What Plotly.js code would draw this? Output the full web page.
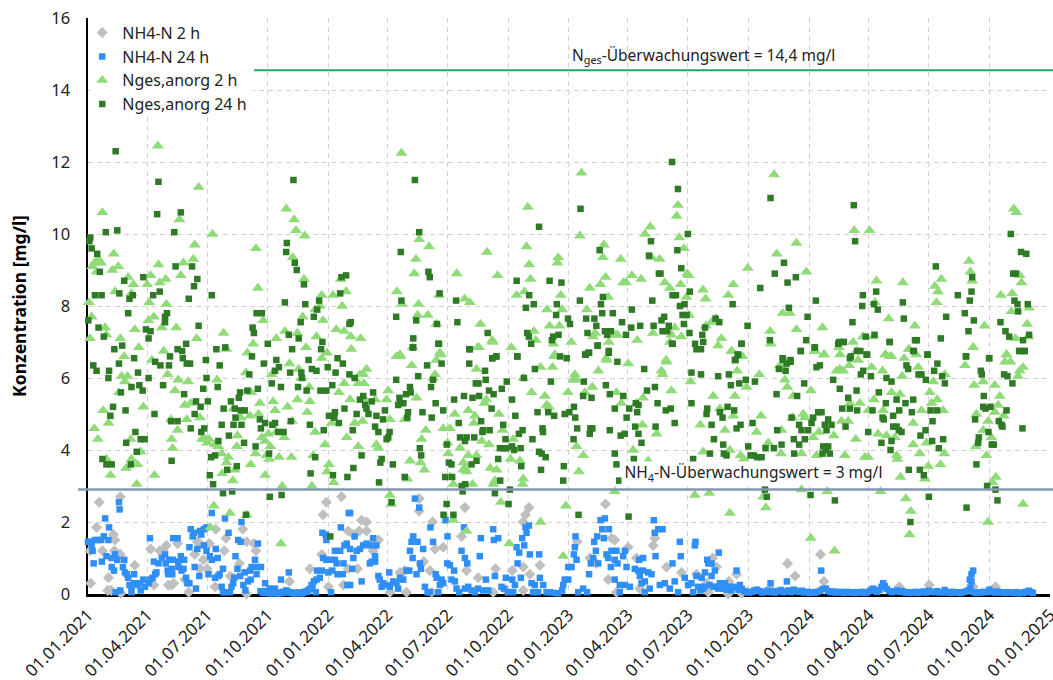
<!DOCTYPE html>
<html><head><meta charset="utf-8">
<script src="https://cdn.plot.ly/plotly-3.0.1.min.js"></script>
<style>html,body{margin:0;padding:0;background:#fff}#c{width:1053px;height:680px}</style></head>
<body><div id="c"></div>
<script>
// each pair: [days since 01.01.2021, concentration mg/l]
const startDate = "2021-01-01";
const tickDates = ["2021-01-01","2021-04-01","2021-07-01","2021-10-01","2022-01-01","2022-04-01","2022-07-01","2022-10-01","2023-01-01","2023-04-01","2023-07-01","2023-10-01","2024-01-01","2024-04-01","2024-07-01","2024-10-01","2025-01-01"];
const tickLabels = ["01.01.2021","01.04.2021","01.07.2021","01.10.2021","01.01.2022","01.04.2022","01.07.2022","01.10.2022","01.01.2023","01.04.2023","01.07.2023","01.10.2023","01.01.2024","01.04.2024","01.07.2024","01.10.2024","01.01.2025"];
const limitNges = 14.55, limitNH4 = 2.9;

const nges2hA = [[1.5,8.1],[5.5,7.7],[6.6,9.1],[9.6,9.2],[13,8.95],[15.7,9.3],[19.7,9.2],[21.8,10.6],[37,9],[39,9.45],[46,9.1],[41,8.4],[61,8.8],[69,8.6],[66,8.35],[26,7.4],[71,7.35],[90,8.6],[95,8.85],[93,8.1],[92,7.6],[100,7.7],[106,12.45],[107,9.15],[109,8.65],[118,8.75],[119,8.05],[112,7.4],[134,7.4],[139,10.4],[141,8.85],[145,9.2],[160,9.3],[162,9.7],[168,11.3],[189,10],[255,9.6],[258,8.5],[266,7.6],[206,7.25],[165,7.1],[299,7.3],[301,10.7],[313,10.4],[316,10.1],[329,9.95],[311,9.35],[328,8.75],[372,8.3],[355,8.3],[384,8.75],[392,8.4],[386,8],[352,8],[345,7.9],[357,7.6],[326,7.7],[318,7.25],[347,7.15],[377,7.35],[389,7.3],[286,7.1],[49,7.1],[28,7.2],[3,7.1],
[9.6,4.6],[15,4.3],[23,5.1],[31,4.75],[28,3.75],[34,3.3],[58,3.5],[65,4.3],[66,3.75],[75,3.6],[74,3.05],[80,3.95],[84,5.2],[47,5.6],[55,6.6],[51,6.05],[60,6.05],[56,5.9],[77,6.85],[97,6.5],[101,3.3],[115,6.75],[121,6.1],[126,4.85],[127,4.3],[128.5,4.05],[136,4.55],[132,5.65],[137,5.95],[152,5.9],[147,5.25],[156,5.3],[150,4.85],[170,4.9],[173,4.3],[178,4.3],[184,4.3],[181,4.2],[193,4.15],[196,5.95],[198,4.1],[203,3.9],[213,3.8],[210.5,3.65],[204,3.35],[223,3.45],[220,3.15],[191,2.45],[215.6,2.25],[186,1.85],[241,2.2],[293,1.4],[295,3],[269,3.3],[247,3.6],[254.5,3.9],[226,4.1],[227,4.4],[221,5.15],[232,4.9],[246,4.95],[248,5.6],[261,5.3],[259,5],[264,4.35],[269,4.25],[274,4.45],[277,4.1],[271,3.85],[275,3.75],[290,3.8],[309,3.8],[298,4.35],[286,4.5],[281,5.35],[284,5.1],[303,5.2],[310,4.8],[318,5.4],[337,5.35],[333,5.05],[345,4.5],[360,4.15],[366,3.6],[363,3.4],[373,3.1],[340,3],[342,3.85],[370,4.75],[393,4.35],[381,5.6],[389,5.85],[398,5.4],[336,5.75],[324,6],[320,6.25],[306,6.4],[331,6.85],[355,6.55],[363,6.7],[279,6.1],[240,6.15],[242,6.7],[251,6.95],[210,6.8]];
const nges2hB = [[476,12.25],[503,9.85],[518,9.65],[498,9.3],[495.5,8.9],[469,8.4],[533,8.3],[477,8.05],[502,8.05],[500.5,7.75],[516,7.75],[529,7.5],[560,8.9],[572,8.2],[580,8.1],[606,9.5],[622,8.85],[596,7.5],[614,7.05],[594,6.85],[536,6.65],[474,6.6],[469,6.6],[493,6.85],[414,7.1],[400,6.8],[399,7.15],[668,10.75],[666,9.65],[670,9.15],[672,8.75],[663,8.4],[651,8.3],[643,6.85],[718,8.3],[714,9.35],[713,9.2],[697,7.9],[720,7.9],[701,7.45],[716,7.45],[677,7.3],[680,7.05],[707,6.95],[734,7],[709,6.65],[749.5,11.7],[747,9.95],[783.5,9.7],[782,9.35],[809,9.3],[786,8.8],[778,8.6],[762,8.5],[790,8.25],[757.6,7.9],[770,7.25],[767,7.15],[800,7.2],[804,7.2],[791,7],[787,6.55],[826,8.85],[840,8.75],[813,8.65],[817,8.65],[846,10],[854,10.2],[834,7.05],[858,7.25],[891,7.4],[886,7.2],[883.6,7],[901,7.15],[896,10.8],[894,10.5],[898,9.9],[905,9.6],[856,9.35],[868,9.3],[876,8.65],[883.6,8.5],[900,8.6],[910,8.9],[912,8.85],[909,8.25],[913,7.75],[878,6.5],
[423,6.25],[418,6.1],[413,6.1],[410.5,5.85],[419,5.85],[456,5.65],[453.5,5.4],[436,5.4],[420.6,5.4],[417,4.8],[405,4.75],[410.5,4.1],[438,4.15],[441,4.05],[458.5,4.85],[481,4.85],[499,5.45],[491.5,6.35],[529,6.5],[524,6],[527,6.1],[506.6,4.3],[513,4.55],[534.4,6.7],[468.7,6.6],[473.7,6.65],[458.5,2.75],[460.5,2.5],[489,3.7],[505,3.65],[511,3.45],[485,3.2],[539.5,4.6],[549.6,4.6],[546,4.2],[547,3.9],[565,4.05],[557,5],[577.5,5.1],[587.6,4.95],[586,4.75],[590,6.25],[591.6,6.85],[614.4,7],[602,5.3],[605,5.4],[624,5],[629.6,4.55],[598,4.25],[609,4.15],[577.5,3.85],[590,3.85],[570,3.65],[570,3.45],[575,3.4],[611,3.5],[620.5,3.45],[618,3.15],[572.6,3.5],[549.6,3.25],[554.7,3.05],[584,3.05],[615.4,3.05],[575,1.75],[554.7,2.05],[641.7,3.75],[645.8,4.3],[656,3.7],[661,3.2],[660,3.05],[627,2.55],[639.7,1.4],[687.3,2],[721.7,1.05],[725.7,2.45],[800,2.85],[745.5,3.4],[752,3.85],[742,4.1],[696.4,5.25],[700,5.2],[693.9,5.5],[673.6,5.6],[661,6],[687.3,6.3],[705.5,6.3],[708,6.6],[729,5.6],[739.4,6.1],[737,5.95],[742,5.95],[754.6,5.6],[766,5.75],[775,6.2],[787.5,6.5],[802.6,5.6],[810,5.3],[820.4,6.4],[828,4],[833,5.3],[843,5.45],[842,4.7],[863.4,4.45],[871,6.2],[872.5,6.1],[878.6,6.45],[886,5.65],[850.7,3.7],[915,5.9],[921.6,2.75]];
const nges2hC = [[1042,11.65],[1076,9.75],[1046,9.45],[1091,8.95],[1002,9.05],[980,8.6],[972.3,8.3],[934,8.45],[938,8.2],[1055,7.8],[1066,7.8],[1115.5,7.4],[1076,7.35],[1036,7.3],[1037,6.95],[953.6,7.65],[947,7.55],[938.4,7.45],[962,7.1],[957,6.9],[977.4,6.75],[994,6.6],[1163.6,10.1],[1187,10.1],[1197.5,8.7],[1195,8.1],[1237.5,8.65],[1216,7.65],[1255.7,7.45],[1162,7],[1177,7.15],[1192.5,7.15],[1140.3,6.85],[1142,6.65],[1104,6.75],[1117.6,6.65],[1167,6.75],[1211,6.65],[1217.8,6.6],[1239.5,6.55],[1246.6,6.8],[1258,6.65],[1286,8.55],[1296,8.75],[1291,8.4],[1288.6,8.1],[1338,9.25],[1340,8.95],[1342.8,8.7],[1361.5,7.45],[1344.3,6.85],[1386.3,8.3],[1403.5,8.35],[1402.5,7.85],[1406,10.7],[1410,10.6],[1415,8.85],[1417.7,8.65],[1429.3,7.95],[1426.3,7.5],[1427.8,7.15],[1408.5,7.1],[1395,6.65],
[949.5,5.5],[982.4,5.5],[1000,5.75],[986,6.2],[1019.4,6.1],[977.4,6.75],[959.7,5.15],[980,4.95],[930,4.7],[967.3,4.55],[1022,4.95],[1015.3,4.5],[1053.3,4.55],[1033,4.2],[991,3.85],[996,3.75],[974.8,4],[1052.3,3.9],[934.4,3.95],[1058.4,5.95],[1062,5.75],[1071,5.5],[1097.8,5.65],[1070,4.9],[1086.2,5],[1088.7,4.9],[1083.6,3.9],[1106.4,3.85],[1101.4,4.35],[1110,4.5],[1132.7,4.4],[1104,6.75],[1118,6.65],[1050.8,6.35],[1136.8,6.2],[1141.8,6.25],[1146.9,6.2],[1156,6.35],[1169.7,6.5],[1144.4,4.8],[1154.5,4.8],[1172.2,5.3],[1157,5.3],[1193.5,5.4],[1207.6,5.1],[1185,5.1],[1166,4.3],[1200,4.45],[1212.7,4.4],[1149.4,3.85],[1179.8,3.8],[1184.9,3.8],[1228,3.85],[1229,3.75],[1225.4,4.35],[1253.2,4.75],[1263.3,3.9],[1253.2,4.15],[1273.4,4.2],[1276,3.55],[1294.7,3.6],[1300.3,3.9],[1234,3.25],[1270.9,3.2],[1283.6,5.9],[1278.5,5.6],[1281,5.3],[1289.6,5.4],[1265.8,5.1],[1298.7,5.1],[1236.5,6.05],[1260.8,6.3],[1190,6.3],[1206.7,6.2],[1211.2,6.65],[1220.3,6.6],[1246.6,6.8],[1220.3,5.6],[1233,5.55],[1301.3,6.1],[1344.3,6.85],[1332,6.35],[1359.5,5.9],[1345.8,5.8],[1377.2,5.8],[1384.8,5.5],[1382.2,5.25],[1377.2,5.05],[1390.8,4.95],[1349.3,5],[1367,4.8],[1359.5,4.55],[1372,4.35],[1348.3,4.1],[1364.5,3.85],[1392.4,6.45],[1395,6.65],[1401,6.45],[1412.6,6.05],[1415,6.2],[1420,6.3],[1378.7,3.25],[1373.6,3.1],[1420,2.5],[1367,2],[1247.6,1.65],[1249.6,2.3],[1242,2.65],[1203.6,2.85],[1122.6,2.85],[1083.6,2.9],[1029.5,2.4],[1025.4,2.7],[974.8,2.25],[943.5,2.8],[1097.8,1.55],[1133.8,1.2]];

const nges24hA = [[3.5,9.9],[2,9.8],[5.5,9.6],[14,9.45],[18,8.95],[10.6,8.3],[20.7,8.3],[0.5,7.6],[16,7.4],[24,7.15],[42,12.3],[27,10.05],[44.5,10.1],[55,8.7],[47.6,8.35],[63,8.2],[68,8.3],[61,7.8],[88,7.35],[95,7.3],[92,7.1],[84,8.8],[99,8.3],[109,8.4],[107,11.45],[105,10.55],[141,10.6],[131,10.05],[133,9.1],[120,7.8],[117,7.7],[117,7.55],[158,9.1],[166,8.75],[161,8.55],[153,8.2],[168,7.45],[188,8.3],[312,11.5],[302,9.75],[301,9.5],[314,9.2],[317,9],[328,8.6],[299,8.1],[330,8.05],[351,8.15],[348,7.9],[343,7.7],[323,7.55],[256,7.8],[264,7.8],[250,7.4],[252,7.25],[305,7.2],[320,7.1],[383,8.35],[385,8.8],[392,8.85],[397,7.5],
[8,6.35],[13,6.2],[32,6.2],[31,6],[40,6.8],[52,6.9],[47,6.4],[70,6.55],[76,6.15],[92,6],[78,5.8],[66,5.75],[83,5.65],[50,5.6],[38,5.2],[57,5.1],[34,4.95],[72,4.5],[58,4.2],[80,4.3],[86,4.3],[74,3.95],[22,3.75],[28,3.6],[36,3.6],[65,3.6],[102,6.45],[110,6.35],[123,6.35],[124.5,6.6],[136,6.8],[143,6.75],[144,6.55],[150,6.4],[155,6.4],[149,6.95],[114,5.8],[101,5],[126,4.8],[136,4.8],[127,3.7],[146,5.55],[156,4.6],[162,5],[164,5.35],[171,5.2],[182,5.35],[175,5.7],[180,6],[179,6.5],[195,6.8],[200,6.35],[208.5,6.85],[197,5.75],[206,5.15],[203,4.7],[217,5.35],[223,5.15],[231,5.6],[242,5.65],[229,5.45],[232,5.1],[238,5.1],[224,4.9],[221,4.7],[233,4.7],[214,4.4],[172,4.5],[176.6,4.6],[198,4.25],[237,4.2],[254.5,4.1],[187,3.8],[193,3.85],[226,3.55],[211.5,3.45],[185,3.3],[190,3.05],[205,2.8],[219,2.85],[240,2.2],[276,2.7],[294,2.75],[275,3.9],[289,4.5],[297,4.5],[308,4.8],[261,4.85],[269,4.75],[262.6,4.6],[280,4.7],[284,4.75],[258,5.7],[279,5.85],[293,5.75],[273,6.95],[249,6.6],[245,6.1],[267,6.4],[286,6.5],[290,6.3],[284,6.2],[307,6.15],[310,6.8],[324,6.15],[325,6],[319,5.75],[332,5.65],[335,6.5],[340,6.25],[347,6.2],[354,6.8],[356,7],[364,6.3],[376,6.15],[379,6.55],[387,6.4],[397,6.1],[353,5.65],[362,5.65],[371,5.8],[389.5,5.15],[375,5.05],[366,4.95],[374,4.9],[381,4.75],[358,4.55],[337,4.7],[345,3.8],[338,3.35],[372,3.3],[394,3.25],[368,1.6]];
const nges24hB = [[887,12],[896,11.25],[911,10],[855,9.8],[852,9.4],[895,9.55],[901,9.05],[867,8.9],[869.5,8.9],[887.7,8.3],[893,8.3],[914,8.4],[857,8.15],[899,8],[906,8.05],[903,7.75],[909,7.75],[905,7.5],[913.5,7.25],[922,6.95],[924,6.8],[871,7.6],[875,7.7],[882,7.45],[872.5,7.3],[879.6,7.3],[887,6.95],[826,7.9],[811,7.55],[825,7.4],[838.6,7.45],[817,7.2],[859,7.45],[496.5,11.5],[503,10.05],[475,9.5],[517,8.95],[519,8.8],[534,8.35],[476,8.15],[468,7.7],[498.5,7.6],[530,7.5],[494,7.1],[532,6.95],[493,6.85],[559,8.15],[561,7.55],[579,6.8],[607,7.25],[620,6.6],[614,6.55],[399,7.55],[685,10.2],[651,8.7],[701,8.7],[719,8.65],[670,8.3],[677,8.05],[665,7.95],[712,8.05],[711,7.75],[729,7.65],[732,7.5],[667,7.25],[669.6,7.15],[706.5,7.15],[714.6,7.2],[704.5,7.05],[673,6.95],[652,6.6],[717,6.6],[727,6.55],[748,10.7],[777,9.55],[747,8.15],[782,8.25],[779,8.05],[781,7.8],[797,7.8],[756.6,7.65],[769,7.65],[772,7.45],[758.6,7.25],[785,7.3],[794,7.3],[788.5,7.2],[774,6.9],[791,6.75],[760,6.7],[755,6.65],
[405,6],[408,5],[402,4.55],[403,3.5],[413,5.4],[418,5.5],[421,5.25],[423,5.15],[431,5.35],[433,5.6],[426,5],[436,4.65],[438,4.95],[448,4.85],[441,4.5],[451,5.1],[456,4.35],[458,4.5],[453.5,4.3],[415.5,3.85],[442,3.1],[446,3.75],[444,3.65],[463,3.6],[461,2.55],[468,5.95],[473,5.45],[474,5.3],[471,5.25],[479,5.3],[483,5.55],[489,5.75],[490,5.6],[486,5.05],[485,4.9],[481,3.25],[504,4.05],[506,3.85],[508,5.05],[501.5,6.05],[515,6.35],[494,6.85],[533,6.95],[537,6.4],[524,5.95],[521,5.75],[528,5.3],[522,4.9],[539.5,5.1],[556,5.4],[571,5.5],[584,5.45],[594,5.5],[589,5.85],[593,5.85],[604,5.95],[603,6.2],[609,5.65],[616,5.55],[628.5,5.7],[636,5.9],[644,5.4],[613,5.15],[563,4.75],[565,4.35],[575,4.35],[572.5,4.25],[586.6,4.35],[597,4.8],[610,4.55],[600,4.55],[599,4.5],[545,4.15],[548,3.65],[552,3.6],[542.5,3.25],[553,3.25],[582.5,3.6],[590,3.7],[573,3.05],[567.5,3],[569,2.85],[544.6,2.5],[540,2.2],[555,2.2],[580,6.8],[579,6.4],[614,6.55],[620,6.6],[652,6.6],
[630.6,4.7],[634,4.3],[625.5,4.05],[631.6,4.05],[623,3.75],[644,4.1],[647,4],[657,4.05],[649,4.95],[660,4.55],[654.4,4.45],[635.6,4.05],[658,3.55],[626,3.15],[618,2.8],[640.7,2.9],[638.7,2.5],[678.7,6.25],[662,6],[682.7,5.05],[699,5.05],[708,4.95],[724,5],[731,5.05],[738,5.2],[740,4.9],[703,5.9],[690.3,4.6],[691,4.5],[675,4.3],[685,3.95],[689,3.9],[695,3.8],[688,3.45],[722.7,3.55],[721.7,3.15],[737.4,4.3],[743,4.6],[763,4.6],[766,4.6],[762,4.45],[752,5.5],[764.7,5.45],[792.5,5.55],[786.5,5.8],[753,5.9],[756,6.65],[761,6.7],[774,6.9],[791,6.7],[804,6.45],[745,2.2],[821,2.15],[800,5.15],[813,5.5],[822,5.15],[818,4.9],[792.5,4.55],[809,4.4],[815,4.45],[831,4.65],[836,4.45],[840.6,4.2],[800,3.9],[802.6,3.6],[806.7,3.15],[829,3.75],[832,5.3],[836,5.25],[834,5.05],[844.7,6.25],[849,5.65],[861,5.75],[865,5.3],[877.5,5.1],[885,5.15],[862,4.65],[891,4.75],[888,6.95],[916.5,5.3],[916.5,6.15],[919,3.75]];
const nges24hC = [[1036.6,11],[1057,9.2],[1043,8.9],[1062.4,8.65],[1075,8.8],[1021,8.5],[979,8.05],[1105.4,8.15],[1064.4,7.95],[1092.8,7.7],[1001.7,7.45],[953,7.65],[958.7,7.55],[937,7.4],[933,7.2],[934.4,7],[992.5,6.95],[931,6.8],[986.5,6.65],[983.5,6.5],[1035.6,7.05],[1090.7,7.05],[1082.6,6.75],[1103.4,6.85],[1054.8,6.55],[1067,6.5],[1139.3,6.95],[1147.4,7],[1161,7.55],[1181.3,7.15],[1194.5,7.2],[1173,6.75],[1183.3,6.65],[1158.5,6.6],[1163,10.8],[1165,9.8],[1176.8,8.3],[1197,8.4],[1175.8,8],[1193.5,8.05],[1199.5,7.9],[1237.5,8.1],[1239,7.65],[1217.3,7],[1256,7.05],[1258.8,7.05],[1254.2,6.75],[1275,6.65],[1287.6,9.1],[1321,8.3],[1341.8,8.4],[1342.8,8.8],[1339.2,8.15],[1331.6,7.8],[1303.3,7.7],[1345.3,7.6],[1337.2,7.3],[1295.2,7.1],[1333.6,6.6],[1368.6,6.55],[1401.5,10],[1417,9.5],[1425,9.45],[1405,8.9],[1409,8.9],[1407,8.15],[1411.6,8.05],[1412.6,7.85],[1427.3,8.05],[1385.8,7.55],[1393.4,7.3],[1399,7.15],[1429.3,7.2],[1420,7.05],[1416,6.75],[1422.7,6.75],
[992.5,6.95],[987.5,6.65],[982.4,6.5],[931,6.1],[957,6.05],[973.3,6.1],[989,5.85],[976.4,5.8],[999,5.95],[1012.8,5.9],[981.4,5.1],[971.3,5.2],[959.7,5.05],[963.7,4.9],[940.4,5.15],[939.4,5],[947,4.7],[991,4.7],[985,4.6],[1009.3,4.75],[950.6,4.3],[964.7,4.15],[965.7,3.9],[969.8,3.85],[944.5,3.9],[1002.7,4.1],[1006.2,3.85],[1011.3,3.85],[1016.3,3.8],[1023,3.8],[1029,4.05],[1041.6,4.05],[1053.3,4.15],[1045.7,5.55],[1049.2,6.25],[1059.4,6.2],[1060.9,6.4],[1067,6.45],[1055.8,6.5],[1082.6,6.75],[1104,6.85],[1106.4,6.3],[1111.5,6.35],[1087.7,5.85],[1077,5.5],[1068.5,4.9],[1046.7,4.55],[1080,4.7],[1083.6,4.55],[1093.8,4.55],[1098.8,4.75],[1101.4,4.9],[1109,5.05],[1114,5.05],[1124.1,4.85],[1119,4.7],[1129.2,4.7],[1121.6,4.55],[1072,4.3],[1080,4.15],[1088.7,4.3],[1072.5,3.9],[1116.5,4.1],[1124.1,4.1],[1120.6,4],[1115.5,3.9],[1126.7,3.9],[1028,2.9],[1031,2.7],[1097.3,2.75],[1134.3,2.6],[1131.7,5.95],[1141.8,5.7],[1167.2,5.65],[1154.5,5.45],[1145.4,5.15],[1157,5.15],[1168,5.1],[1191.4,5.1],[1150.5,4.65],[1185,4.5],[1157,6.55],[1168,6.75],[1182.3,6.65],[1177.3,6.2],[1189,6.05],[1173.7,6.1],[1140.8,7],[1147.9,7],[1217.8,7],[1212.7,6],[1220.3,5.9],[1201,5.6],[1211.7,5.3],[1228,5.4],[1206.7,4.9],[1208.6,4.85],[1222.8,4.95],[1232,5.1],[1241.5,5.3],[1253.2,5.4],[1251.2,5.05],[1222.8,4.65],[1228,4.65],[1231.4,4.55],[1235.5,4.5],[1205,4.2],[1220.3,4.25],[1218.8,4],[1246.6,3.45],[1263.3,3.45],[1269.4,3.3],[1253.2,6.75],[1243,6.35],[1245.6,6.25],[1261.3,6.1],[1265.8,6.1],[1272.4,5.95],[1275,6.65],[1285,6.2],[1290,6.4],[1297.2,6.05],[1301.3,5.85],[1279.5,5.1],[1289.6,5.1],[1282.6,4.8],[1272,4.55],[1264.3,4.4],[1282,4.25],[1298.7,4.3],[1292.2,4.05],[1277,2.7],[1249,2],[1334.2,2.4],[1333.2,6.6],[1368.6,6.55],[1356,6.2],[1357.4,6.1],[1360.5,5.5],[1359.5,5.2],[1363,5.15],[1370.6,5.2],[1347.3,4.85],[1395,5.1],[1383.2,4.8],[1387.3,4.7],[1388.8,4.65],[1367.5,4.5],[1352.9,4.35],[1351.9,4.2],[1372.6,4.15],[1375.6,4.15],[1349.3,3.6],[1365.5,3],[1378.2,2.9],[1381.2,2.6],[1419.2,4.6],[1391.3,6.1],[1396.4,6.05],[1403.9,5.85],[1414.1,6.75],[1422.7,6.75]];

const nh42h = [[3,1.2],[4,0.3],[17,2.55],[49,2.7],[13,1.85],[38.5,1.65],[41,1.5],[22,1.2],[31,0.45],[30,0.1],[35,0.1],[40,1.2],[49,1.1],[50,0.02],[71,0.8],[95,1.25],[100,0.25],[109,1.2],[114,1.2],[119,1.35],[136,1.4],[122,0.25],[127,0.25],[130,0.3],[147,0.4],[153,0.05],[162,1.1],[170,1.4],[166,1.45],[175,0.95],[184,1.4],[170,0.7],[181,0.7],[193,0.2],[194,1.8],[209.5,1.55],[207,1.2],[235,1.8],[230,0.85],[241,1.45],[255,1.2],[252,1.4],[241,0],[306,0.35],[337,0.7],[355,1.1],[357,2.2],[362,2.55],[385,2.7],[365,0.2],[388,0.25],[395,0.7],[395,1.75],[216,0.5],[221,0.45],
[415.5,2.05],[423,2],[403,1.65],[412,1.75],[423,1.75],[436,1.5],[441,1.5],[433,1.2],[409.4,0.7],[503,2.65],[503,2.3],[523.3,2],[572.4,2.4],[567.3,1.6],[539.5,1.3],[527,1.25],[510,0.9],[519.3,0.65],[575,0.65],[592.6,0.45],[619,0.7],[644.3,0.65],[661,0.75],[671,0.55],[686.3,0.8],[669.6,2.4],[664.5,2.2],[661,2],[483.8,0.05],[458.5,0.05],[473.7,0.6],[481,0.65],[522,0.05],[615.4,0.05],[635.6,0.1],[661,0.1],[785.9,2.5],[795,1.55],[800,1.5],[743,1.45],[762,1],[772,0.85],[790,0.4],[820.4,1.3],[833,1],[858.3,1.35],[860.8,1.55],[878.6,0.75],[901.3,0.6],[924,0.55],[838,0.15],[802.6,0.05],
[948.5,1],[954.6,0.75],[939.4,0.3],[942,0.05],[973.3,0.35],[972.3,0],[1062.4,0.85],[1074,0.5],[1112.5,1.1],[1117.6,0.35],[1232,0.2],[1277.5,0.25],[1344.3,0.2],[1378.2,0.2],[985,0.55],[1035.6,0.15],[992.6,0.02]];

const nh424hA = [[0,1.45],[3,1.45],[5.6,1.35],[7,1.2],[10.6,1.5],[15.7,1.5],[20,1.5],[24,1.6],[31,1.5],[26,2.1],[32,1.85],[47,2.55],[48,2.35],[8.6,0.85],[21,0.9],[28,1.05],[36,1],[41,1.1],[44.5,0.95],[55,0.95],[36,0.75],[39.5,0.65],[53,0.75],[56,0.6],[59,0.55],[61,0.45],[70,0.55],[42,0.05],[49,0.1],[63,0.25],[66,0.2],[70,0.3],[75,0.25],[79,0.3],[84,0.4],[66,0.05],[80,0.1],[86.5,0.2],[92,0.3],[94,0.4],[98,0.45],[102,0.55],[104,0.6],[100,0.9],[107,0.85],[112,1],[117,1.1],[118,0.85],[123,0.95],[129,0.95],[137,0.9],[141,1.05],[146,0.95],[121,0.65],[127,0.7],[122,0.55],[128,0.55],[137,0.75],[142,0.65],[145,0.7],[94,1.55],[129.5,1.55],[136,1.55],[149,0.45],[151,0.3],[154,0.3],[154,1.3],[159,1.6],[156,1.8],[161,1.7],[170,1.75],[172,1.65],[176,1.8],[180,1.85],[166,1.25],[176,1.35],[180,1.2],[185,1.05],[188,0.95],[194,1.25],[197,1],[162,0.75],[169,0.5],[164,0.15],[183,0.55],[193,0.45],[198,0.5],[200,0.55],[205,0.7],[188,2.25],[208,2.1],[233,2],[213.5,1.7],[228,1.5],[232,1.45],[258,1.4],[224,1.05],[253.6,0.95],[227,0.7],[231,0.5],[238,0.6],[246,0.65],[248.5,0.75],[256,0.75],[262.6,0.75],[203,0.2],[205,0.05],[210,0.05],[215.6,0.05],[218,0.2],[220.6,0.3],[222,0.45],[236,0.25],[239,0.1],[243,0.35],[247,0.4],[256,0.55],[269,0.3],[293,0.4],[305,0.6],[276,0.15],[284,0.15],[301,0.1],[334.5,0.1],[339.6,0.25],[343,0.35],[347,0.4],[352,0.45],[348,0.65],[355,0.65],[365,0.6],[371,0.65],[369,0.05],[379,0.55],[387,0.55],[394,0.25],[357,1],[362,0.95],[367,0.95],[375,1.2],[383,1.2],[389.5,1.35],[393,1.4],[375,0.95],[377.6,0.85],[388,0.85],[356,1.7],[362,1.5],[361,1.65],[384,1.85],[396,2.25],
[262,0.08],[265,0.05],[267,0.03],[270,0.08],[272,0.04],[275,0.02],[277,0.06],[279,0.03],[282,0.02],[284,0.05],[287,0.02],[289,0.03],[291,0.02],[294,0.03],[296,0.06],[298,0.04],[303,0.07],[306,0.05],[309,0.03],[312,0.02],[314,0.04],[316,0.02],[319,0.03],[321,0.04],[324,0.02],[326,0.03],[328,0.05],[331,0.07],[333,0.06],[337,0.14],[341,0.16],[346,0.05]];
const nh424hB = [[398,2.25],[405,1.6],[403,1],[398,1.25],[408,1.2],[413,1.25],[418,1.35],[423,1.4],[428,1.35],[433,1.55],[438,1.35],[436,1.05],[431,0.9],[436,0.9],[428,0.85],[415.5,0.35],[401.4,0.7],[398,0.25],[441,0.5],[443,0.4],[448.4,0.3],[446,0.2],[457.5,0.6],[453.5,0.25],[458.5,0.2],[463.6,0.35],[468.6,0.3],[473.7,0.45],[478.8,0.4],[471,0.15],[483.8,0.65],[488,0.65],[499,0.55],[504,0.85],[505.6,0.7],[494,1.6],[491.4,1.45],[489,1.2],[500.5,1.45],[493,1],[509,1.25],[524,1.45],[520,1.85],[496.5,2.65],[503,2.4],[543,2.05],[571,1.85],[546,1.6],[511.7,0.2],[515.7,0.05],[519.3,0.05],[532,0.05],[528,0.55],[529.4,0.45],[537,0.4],[534.4,0.25],[539.5,0.3],[545.6,0.85],[549.6,0.8],[556,0.65],[552,0.4],[557.2,0.35],[559.7,0.15],[563.8,0.05],[572.4,0.15],[577.5,0.2],[582.5,0.1],[587.6,0.05],[592.6,0.15],[604.3,0.4],[600.2,0.1],[607.8,0.1],[618,0.5],[567.3,1.2],[572.4,1],[576,0.85],[595,1.05],[596.7,1.55],[615.4,1.8],[616.4,1.5],[623,1.55],[628,0.2],[631.6,0.15],[634.6,0.45],[638,0.05],[644.3,0.4],[648.3,0.25],[645.8,0.05],[657.4,0.45],[650.8,1.3],[654.9,1.15],[652.4,0.85],[659.4,1.55],[662.5,1.35],[664.5,1.85],[666,1.7],[669.6,1.9],[671,1.1],[685.2,1.1],[673.6,0.3],[678.7,0.25],[686.3,0.45],[691.3,0.25],[676,0.05],[683.7,0.05],[696.4,0.05],[701.4,0.05],[708,0.03],[714,0.02],[720,0.1],[724,0.4],[729.3,0.4],[721.7,0.25],[729.3,0.75],[734.3,0.75],[742,0.95],[737.9,1.1],[739.4,1.3],[740.4,1.6],[744.5,0.05],[752,0.15],[758,0.05],[761,0.55],[763.7,0.85],[767.2,1],[774.8,0.85],[771.3,1.2],[768.7,1.45],[773.3,1.6],[778.4,2.05],[785,2.1],[781,1.8],[791,1.8],[783.4,1.55],[787.5,1.1],[790,1],[795,1.2],[802.6,1.2],[800.1,0.95],[804.2,0.85],[794,0.75],[815.3,1.2],[812.8,1.05],[800,0.4],[807.7,0.25],[807.7,0.05],[815.3,0.25],[823,0.2],[817.9,0.75],[830.5,0.7],[837,0.95],[843,1],[835.5,0.65],[843,0.65],[850.7,0.6],[855.8,0.55],[838,0.5],[845.7,0.35],[840.6,0.3],[845.7,0.05],[853,0.15],[861.9,1.05],[859.3,2.05],[860.8,1.7],[866,1.8],[872.5,1.8],[887.7,0.85],[898.8,1.45],[900.3,1.05],[922.6,1.45],[921.6,1.35],[868.4,0.25],[876,0.3],[883.6,0.15],[891,0.35],[896.3,0.05],[906.4,0.45],[911.4,0.25],[916.5,0.3],[919,0.05],[924,0.5],[926.6,0.2]];
const nh424hC = [[958,1.15],[940.4,0.95],[942,0.85],[947,0.85],[937,0.6],[952,0.65],[947,0.5],[932,0.45],[959.7,0.3],[967.3,0.3],[985,0.65],[975,0.2],[980,0.2],[990,0.25],[954.6,0.2],[964.7,0.15],[934.4,0.15],[1036.6,0.3],[1061.4,0.35],[1113.5,0.65],[1120.6,0.15],[1344.3,0.65],[1341.8,0.55],[1339.2,0.4],[1341.8,0.35],[1207.6,0.3],[1192.5,0.15],
[930,0.1],[936,0.2],[944,0.25],[950,0.2],[957,0.15],[962,0.22],[970,0.12],[977,0.1],[983,0.18],[988,0.12],[993,0.14],[997,0.08],[1000,0.06],[1004,0.04],[1008,0.06],[1012,0.1],[1016,0.12],[1020,0.08],[1024,0.04],[1028,0.06],[1032,0.09],[1036,0.05],[1040,0.07],[1044,0.04],[1048,0.08],[1052,0.11],[1056,0.05],[1060,0.07],[1064,0.1],[1068,0.05],[1072,0.12],[1076,0.08],[1080,0.06],[1084,0.09],[1088,0.04],[1092,0.06],[1096,0.03],[1100,0.05],[1104,0.04],[1108,0.06],[1112,0.09],[1116,0.14],[1124,0.08],[1128,0.05],[1132,0.07],[1136,0.04],[1140,0.06],[1144,0.05],[1148,0.03],[1152,0.06],[1156,0.04],[1160,0.05],[1164,0.03],[1168,0.05],[1172,0.04],[1176,0.06],[1180,0.03],[1184,0.05],[1188,0.09],[1191,0.12],[1195,0.1],[1198,0.06],[1202,0.11],[1205,0.2],[1210,0.22],[1213,0.14],[1217,0.08],[1221,0.05],[1225,0.07],[1229,0.1],[1233,0.06],[1237,0.08],[1241,0.04],[1245,0.05],[1249,0.03],[1253,0.04],[1257,0.06],[1261,0.03],[1265,0.05],[1269,0.07],[1273,0.04],[1277,0.09],[1281,0.06],[1285,0.05],[1289,0.08],[1293,0.05],[1297,0.04],[1301,0.11],[1305,0.05],[1309,0.03],[1313,0.06],[1317,0.04],[1321,0.05],[1325,0.03],[1329,0.05],[1333,0.07],[1337,0.1],[1340,0.18],[1345,0.05],[1349,0.03],[1353,0.05],[1357,0.04],[1361,0.06],[1365,0.05],[1369,0.12],[1373,0.06],[1377,0.04],[1381,0.07],[1385,0.04],[1389,0.05],[1393,0.03],[1397,0.05],[1401,0.04],[1405,0.03],[1409,0.05],[1413,0.02],[1417,0.04],[1421,0.03],[1425,0.06],[1429,0.09],[1432,0.05],[1435,0.03]];

const dayToDate = d => new Date(Date.parse(startDate+"T00:00:00Z") + d*864e5).toISOString();
const xs = a => a.map(p => dayToDate(p[0]));
const ys = a => a.map(p => p[1]);
const font = "'Noto Sans', 'Open Sans', sans-serif";

function series(name, pts, symbol, size, color){
  return {type:"scatter", mode:"markers", name, x:xs(pts), y:ys(pts), cliponaxis:false,
    marker:{symbol, size, color, line:{width:0}}};
}
const data = [
  series("NH4-N 2 h", nh42h, "diamond", 8.5, "#BFBFBF"),
  series("NH4-N 24 h", nh424hA.concat(nh424hB, nh424hC), "square", 6.5, "#2F8FF7"),
  series("Nges,anorg 2 h", nges2hA.concat(nges2hB, nges2hC), "triangle-up", 10.5, "#8FDB78"),
  series("Nges,anorg 24 h", nges24hA.concat(nges24hB, nges24hC), "square", 6.5, "#2E7A25")
];
const grid = {showgrid:true, gridcolor:"#D2D2D2", griddash:"5px,4px", gridwidth:1, zeroline:false, ticks:"",
  showline:true, linecolor:"#000", linewidth:2.5, layer:"below traces"};
const layout = {
  width:1053, height:680, paper_bgcolor:"#fff", plot_bgcolor:"#fff",
  margin:{l:88, r:3, t:18, b:86, pad:0},
  font:{family:font, color:"#222", size:16},
  showlegend:true,
  legend:{x:-0.006, xanchor:"left", y:1.004, yanchor:"top", bgcolor:"rgba(255,255,255,0)", borderwidth:0,
    font:{size:16, family:font, color:"#222"}, itemsizing:"trace", tracegroupgap:0},
  xaxis:Object.assign({}, grid, {type:"date", range:[startDate,"2025-01-01"], tickmode:"array", tickvals:tickDates, ticktext:tickLabels,
    tickangle:-45, ticklabelstandoff:2, ticklabeloverflow:"allow", tickfont:{size:17, family:font, color:"#222"}}),
  yaxis:Object.assign({}, grid, {range:[0,16], tickmode:"array", tickvals:[0,2,4,6,8,10,12,14,16], ticklabelstandoff:12,
    tickfont:{size:16.5, family:font, color:"#222"},
    title:{text:"<b>Konzentration [mg/l]</b>", standoff:20, font:{size:17.5, family:font, color:"#000"}}}),
  shapes:[
    {type:"rect", layer:"between", xref:"x", yref:"y", x0:dayToDate(3), x1:dayToDate(250), y0:13.3, y1:16, fillcolor:"#fff", line:{width:0}},
    {type:"line", xref:"paper", yref:"y", x0:(254-88)/962, x1:965/962, y0:limitNges, y1:limitNges, line:{color:"#1FA866", width:2}},
    {type:"line", xref:"paper", yref:"y", x0:-10/962, x1:965/962, y0:limitNH4, y1:limitNH4, line:{color:"#8497B0", width:2.5}}
  ],
  annotations:[
    {xref:"paper", yref:"paper", x:(703-88)/962, y:(594-56)/576, xanchor:"center", yanchor:"middle", showarrow:false,
     text:"N<sub>ges</sub>-Überwachungswert = 14,4 mg/l", font:{size:15.5, family:font, color:"#222"}},
    {xref:"paper", yref:"paper", x:(753.5-88)/962, y:(594-473)/576, xanchor:"center", yanchor:"middle", showarrow:false, width:263, height:22, bgcolor:"#fff", borderpad:0,
     text:"NH<sub>4</sub>-N-Überwachungswert = 3 mg/l", font:{size:15.5, family:font, color:"#222"}}
  ]
};
Plotly.newPlot("c", data, layout, {displayModeBar:false, staticPlot:true});
</script></body></html>
